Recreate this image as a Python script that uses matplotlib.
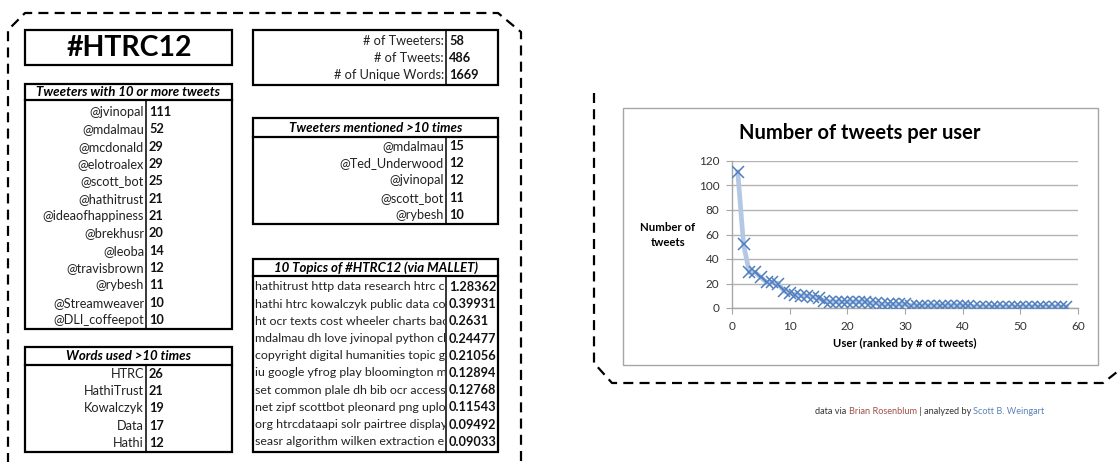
import matplotlib
matplotlib.use("Agg")
import matplotlib.pyplot as plt
from matplotlib.patches import Rectangle
from matplotlib.transforms import Bbox, TransformedBbox

# ---------------- data ----------------
title_tag = "#HTRC12"
stat_labels = ["# of Tweeters:", "# of Tweets:", "# of Unique Words:"]
stat_values = ["58", "486", "1669"]

top_tweeters = ["@jvinopal", "@mdalmau", "@mcdonald", "@elotroalex", "@scott_bot",
                "@hathitrust", "@ideaofhappiness", "@brekhusr", "@leoba",
                "@travisbrown", "@rybesh", "@Streamweaver", "@DLI_coffeepot"]
top_tweet_counts = [111, 52, 29, 29, 25, 21, 21, 20, 14, 12, 11, 10, 10]

mentioned = ["@mdalmau", "@Ted_Underwood", "@jvinopal", "@scott_bot", "@rybesh"]
mention_counts = [15, 12, 12, 11, 10]

words = ["HTRC", "HathiTrust", "Kowalczyk", "Data", "Hathi"]
word_counts = [26, 21, 19, 17, 12]

topics = ["hathitrust http data research htrc ce",
          "hathi htrc kowalczyk public data col",
          "ht ocr texts cost wheeler charts bac",
          "mdalmau dh love jvinopal python ch",
          "copyright digital humanities topic go",
          "iu google yfrog play bloomington m",
          "set common plale dh bib ocr access",
          "net zipf scottbot pleonard png uplo",
          "org htrcdataapi solr pairtree display",
          "seasr algorithm wilken extraction en"]
topic_weights = ["1.28362", "0.39931", "0.2631", "0.24477", "0.21056",
                 "0.12894", "0.12768", "0.11543", "0.09492", "0.09033"]

user_rank = list(range(1, 59))
tweets_per_user = [111, 52, 29, 29, 25, 21, 21, 20, 14, 12, 11, 10, 10,
                   9, 8, 6, 5, 5, 5, 5, 5, 5, 5, 4, 4, 3, 3, 3, 3, 3, 2, 2,
                   2, 2, 2, 2, 2, 2, 2, 2, 2,
                   1, 1, 1, 1, 1, 1, 1, 1, 1, 1, 1, 1, 1, 1, 1, 1, 1]

chart_title = "Number of tweets per user"
x_label = "User (ranked by # of tweets)"
y_label = "Number of\ntweets"

FONT = ["Lato", "DejaVu Sans"]
plt.rcParams['font.family'] = FONT

W, H = 1117, 462
fig = plt.figure(figsize=(W / 100, H / 100), dpi=100)
ax = fig.add_axes([0, 0, 1, 1])
ax.set_xlim(0, W)
ax.set_ylim(H, 0)
ax.axis("off")

DASH = (0, (4.5, 2.8))
LWD = 1.6

# left dashed frame
ax.plot([8, 8, 25, 498, 521, 521], [470, 30, 13, 13, 32, 470],
        color="black", lw=LWD, linestyle=DASH, solid_capstyle="butt")
# right dashed frame
ax.plot([594, 594, 612, 1103, 1117], [93, 363, 383, 383, 372],
        color="black", lw=LWD, linestyle=DASH)

BLW = 1.6
FS = 9.2


def box(x0, y0, x1, y1, lw=BLW):
    ax.add_patch(Rectangle((x0, y0), x1 - x0, y1 - y0, fill=False,
                           edgecolor="black", lw=lw))


# title box
box(25, 30, 232, 65)
ax.text(129, 48, title_tag, ha="center", va="center", fontsize=20.5,
        fontweight="bold")


def table(x0, x1, xdiv, ytop, yhead, ybot, header, labels, values, y_first,
          step, left_labels=False, lab_fs=FS):
    box(x0, ytop, x1, ybot)
    ax.plot([x0, x1], [yhead, yhead], color="black", lw=BLW)
    ax.plot([xdiv, xdiv], [yhead, ybot], color="black", lw=1.1)
    ax.text((x0 + x1) / 2, (ytop + yhead) / 2 + 0.5, header, ha="center",
            va="center", fontsize=FS + 0.3, fontweight="bold", style="italic")
    clipbox = TransformedBbox(Bbox([[x0, yhead], [xdiv - 1, ybot]]),
                              ax.transData)
    for i, (lab, val) in enumerate(zip(labels, values)):
        y = y_first + i * step
        if left_labels:
            t = ax.text(x0 + 2, y, lab, ha="left", va="center",
                        fontsize=lab_fs, color="#222222", clip_on=True)
            t.set_clip_box(clipbox)
        else:
            ax.text(xdiv - 2, y, lab, ha="right", va="center", fontsize=FS,
                    color="#222222")
        ax.text(xdiv + 3, y, str(val), ha="left", va="center", fontsize=FS,
                fontweight="bold", color="#111111")


table(25, 232, 146, 84, 100, 329, "Tweeters with 10 or more tweets",
      top_tweeters, top_tweet_counts, 112, 17.33)
table(25, 232, 146, 347, 365, 452, "Words used >10 times",
      words, word_counts, 374, 17.25)

# stats box
box(253, 30, 498, 85)
ax.plot([446, 446], [30, 85], color="black", lw=1.1)
for i, (lab, val) in enumerate(zip(stat_labels, stat_values)):
    y = 41 + i * 17
    ax.text(444, y, lab, ha="right", va="center", fontsize=FS, color="#222222")
    ax.text(449, y, val, ha="left", va="center", fontsize=FS,
            fontweight="bold", color="#111111")

table(253, 498, 446, 118, 137, 224, "Tweeters mentioned >10 times",
      mentioned, mention_counts, 146, 17.25)
table(253, 498, 446, 259, 276, 452, "10 Topics of #HTRC12 (via MALLET)",
      topics, topic_weights, 287, 17.2, left_labels=True, lab_fs=8.9)

# chart frame
ax.add_patch(Rectangle((623, 108), 1098 - 623, 365 - 108, fill=False,
                       edgecolor="#a6a6a6", lw=1.0))
ax.text(860, 133, chart_title, ha="center", va="center", fontsize=14.5,
        fontweight="bold", color="black")
ax.text(668, 235, y_label, ha="center", va="center", fontsize=8.2,
        fontweight="bold", linespacing=1.45)
ax.text(905, 343, x_label, ha="center", va="center", fontsize=8.2,
        fontweight="bold")

# footer
fx, fy = 815, 411
parts = [("data via ", "#333333"), ("Brian Rosenblum", "#a0504e"),
         (" | analyzed by ", "#333333"), ("Scott B. Weingart", "#5b82b8")]
fig.canvas.draw()
rend = fig.canvas.get_renderer()
cx = fx
for txt, col in parts:
    t = ax.text(cx, fy, txt, ha="left", va="center", fontsize=6.6, color=col)
    bb = t.get_window_extent(renderer=rend)
    cx += bb.width

# line chart
x0p, x1p, y0p, y1p = 732, 1078, 308, 161
cax = fig.add_axes([x0p / W, 1 - y0p / H, (x1p - x0p) / W, (y0p - y1p) / H])
cax.set_facecolor("none")
cax.plot(user_rank, tweets_per_user, color="#b4c8e4", lw=3.4,
         solid_joinstyle="round", zorder=2)
cax.plot(user_rank, tweets_per_user, linestyle="none", marker="x",
         markersize=8, markeredgewidth=1.1, color="#4f7fbf", zorder=3)
cax.set_xlim(0, 60)
cax.set_ylim(0, 120)
cax.set_xticks(range(0, 61, 10))
cax.set_yticks(range(0, 121, 20))
cax.grid(axis="y", color="#b3b3b3", lw=1.0)
cax.set_axisbelow(True)
for s in ["top", "right"]:
    cax.spines[s].set_visible(False)
for s in ["left", "bottom"]:
    cax.spines[s].set_color("#a6a6a6")
    cax.spines[s].set_linewidth(1.0)
cax.tick_params(axis="x", direction="out", length=4, color="#a6a6a6",
                labelsize=8.5, labelcolor="#333333", pad=5)
cax.tick_params(axis="y", direction="out", length=4, color="#a6a6a6",
                labelsize=8.5, labelcolor="#333333", pad=5)

fig.savefig("out.png", dpi=100)
